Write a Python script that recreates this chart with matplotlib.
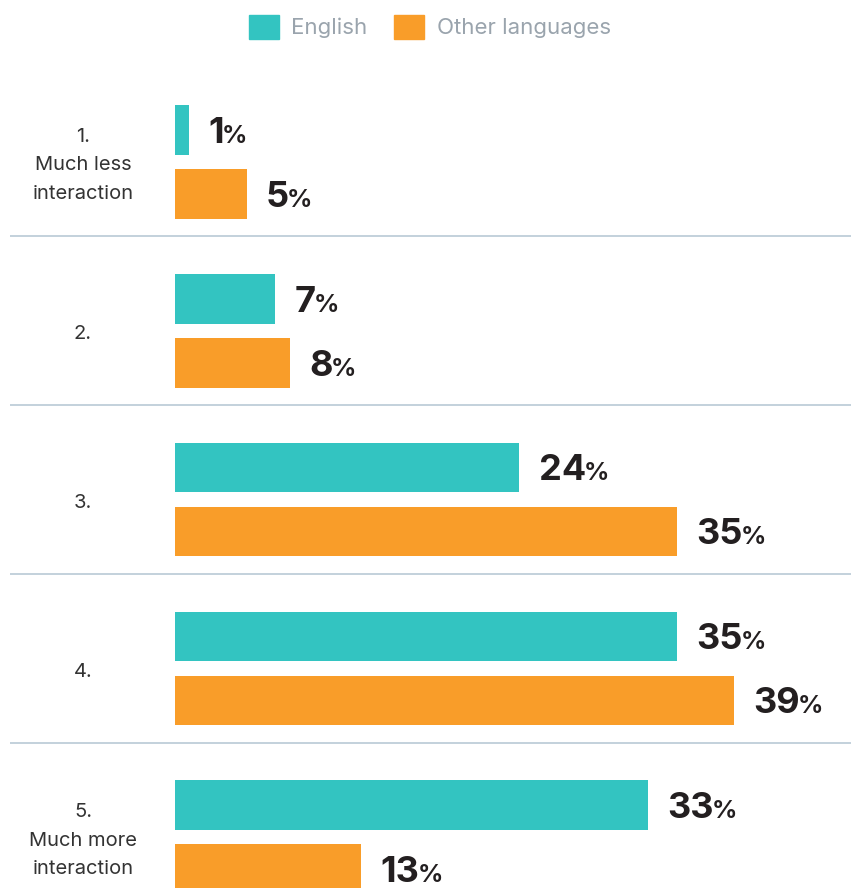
import matplotlib.pyplot as plt
from matplotlib.patches import Patch

categories = ['1.\nMuch less\ninteraction', '2.', '3.', '4.', '5.\nMuch more\ninteraction']
english = [1, 7, 24, 35, 33]
other = [5, 8, 35, 39, 13]
series_names = ['English', 'Other languages']

TEAL = '#33c4c1'
ORANGE = '#f99d29'
TEXT_DARK = '#231f20'
LABEL_GRAY = '#333333'
LEGEND_GRAY = '#9aa4ad'
SEP_COLOR = '#b9cad6'

plt.rcParams['font.family'] = ['Inter', 'DejaVu Sans']

W, H = 851, 888
PX_PER_PCT = 14.34
GROUP_PX = 168.8
ZERO_PX = 175
FIRST_CENTER_PX = 162

fig = plt.figure(figsize=(W / 100, H / 100), dpi=100)
ax = fig.add_axes([0, 0, 1, 1])
ax.set_xlim(-ZERO_PX / PX_PER_PCT, (W - ZERO_PX) / PX_PER_PCT)
ax.set_ylim((H - FIRST_CENTER_PX) / GROUP_PX, -FIRST_CENTER_PX / GROUP_PX)
ax.axis('off')

offset = 32 / GROUP_PX
bar_h = 49.5 / GROUP_PX
ys = list(range(len(categories)))

ax.barh([y - offset for y in ys], english, height=bar_h, color=TEAL)
ax.barh([y + offset for y in ys], other, height=bar_h, color=ORANGE)


def value_label(x, y):
    num = ax.text(x + 1.35, y + 0.02, str(x), fontsize=26, fontweight='bold',
                  color=TEXT_DARK, va='center', ha='left')
    ax.annotate('%', xy=(1, 0), xycoords=num, xytext=(-1.5, 1.5),
                textcoords='offset points', fontsize=18, fontweight='bold',
                color=TEXT_DARK, va='bottom', ha='left')


for y, e, o in zip(ys, english, other):
    value_label(e, y - offset)
    value_label(o, y + offset)

for y, cat in zip(ys, categories):
    ax.text((83 - ZERO_PX) / PX_PER_PCT, y + 0.02, cat, fontsize=14.5,
            color=LABEL_GRAY, ha='center', va='center', linespacing=1.75)

sep_x0 = (10 - ZERO_PX) / PX_PER_PCT
for y in ys[:-1]:
    ax.plot([sep_x0, ax.get_xlim()[1]], [y + 0.44, y + 0.44],
            color=SEP_COLOR, lw=1.2, solid_capstyle='butt')

handles = [Patch(color=TEAL, label=series_names[0]),
           Patch(color=ORANGE, label=series_names[1])]
fig.legend(handles=handles, loc='center', bbox_to_anchor=(430 / W, 1 - 27 / H),
           ncol=2, frameon=False, fontsize=16, labelcolor=LEGEND_GRAY,
           handlelength=1.35, handleheight=1.35, handletextpad=0.55,
           columnspacing=1.2, borderpad=0, borderaxespad=0)

fig.savefig('out.png', dpi=100)
